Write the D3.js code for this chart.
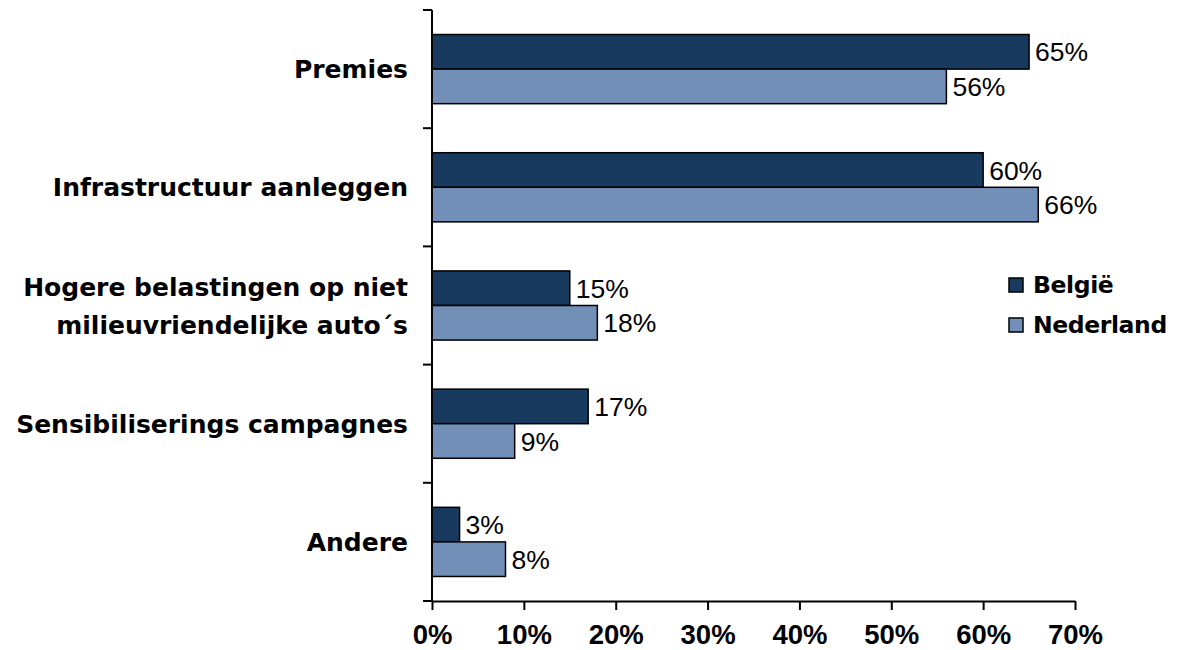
<!DOCTYPE html>
<html><head><meta charset="utf-8">
<script src="https://cdn.jsdelivr.net/npm/d3@7"></script>
<style>body{margin:0;background:#fff;}</style>
</head><body>
<svg id="c" width="1181" height="650"></svg>
<script>
const categories = ["Premies", "Infrastructuur aanleggen", "Hogere belastingen op niet\nmilieuvriendelijke auto´s", "Sensibiliserings campagnes", "Andere"];
const seriesNames = ["België", "Nederland"];
const belgie = [65, 60, 15, 17, 3];
const nederland = [56, 66, 18, 9, 8];
const xTicks = [0, 10, 20, 30, 40, 50, 60, 70];
const colors = ["#173A5E", "#7290B7"];

(function () {
const svg = d3.select("#c");
const mLeft = 432, mRight = 1075, mTop = 10, mBottom = 601;
const x = d3.scaleLinear().domain([0, 70]).range([mLeft, mRight]);
const y = d3.scaleBand().domain(categories).range([mTop, mBottom]).paddingInner(0.415).paddingOuter(0.2075);
const inner = d3.scaleBand().domain(seriesNames).range([0, y.bandwidth()]);
const data = [belgie, nederland];

// bars
seriesNames.forEach((s, si) => {
  const g = svg.append("g");
  categories.forEach((c, ci) => {
    const v = data[si][ci];
    g.append("rect")
      .attr("x", x(0)).attr("y", y(c) + inner(s))
      .attr("width", x(v) - x(0)).attr("height", inner.bandwidth())
      .attr("fill", colors[si]).attr("stroke", "#000").attr("stroke-width", 1.5);
    g.append("text")
      .attr("x", x(v) + 6).attr("y", y(c) + inner(s) + inner.bandwidth() / 2)
      .attr("dy", "0.36em")
      .attr("font-family", "Liberation Sans, Arial, sans-serif")
      .attr("font-size", 26.5).attr("fill", "#000")
      .text(v + "%");
  });
});

// y axis (ticks between categories)
const yb = d3.scaleLinear().domain([0, categories.length]).range([mTop, mBottom]);
svg.append("line").attr("x1", mLeft).attr("x2", mLeft).attr("y1", mTop).attr("y2", mBottom).attr("stroke", "#000").attr("stroke-width", 2);
d3.range(categories.length + 1).forEach(i => {
  svg.append("line").attr("x1", mLeft - 9).attr("x2", mLeft).attr("y1", yb(i)).attr("y2", yb(i)).attr("stroke", "#000").attr("stroke-width", 2);
});

// x axis
const xAxis = d3.axisBottom(x).tickValues(xTicks).tickFormat(d => d + "%").tickSize(9).tickSizeOuter(0);
const gx = svg.append("g").attr("transform", `translate(0,${mBottom})`).call(xAxis);
gx.select(".domain").attr("stroke", "#000").attr("stroke-width", 2);
gx.selectAll(".tick line").attr("stroke", "#000").attr("stroke-width", 2);
gx.selectAll(".tick text").attr("font-family", "Liberation Sans, Arial, sans-serif").attr("font-weight", "bold")
  .attr("font-size", 27.5).attr("fill", "#000").attr("y", 43).attr("dy", "0");

// category labels
categories.forEach(c => {
  const lines = c.split("\n");
  const cy = y(c) + y.bandwidth() / 2;
  const t = svg.append("text").attr("text-anchor", "end")
    .attr("font-family", "DejaVu Sans, sans-serif").attr("font-weight", "bold")
    .attr("font-size", 25).attr("fill", "#000");
  lines.forEach((l, i) => {
    t.append("tspan").attr("x", 408).attr("y", cy + (i - (lines.length - 1) / 2) * 38).attr("dy", "0.36em").text(l);
  });
});

// legend
seriesNames.forEach((s, i) => {
  const ly = 285 + i * 40;
  svg.append("rect").attr("x", 1009).attr("y", ly - 7).attr("width", 14).attr("height", 14)
    .attr("fill", colors[i]).attr("stroke", "#000").attr("stroke-width", 1.5);
  svg.append("text").attr("x", 1033).attr("y", ly).attr("dy", "0.36em")
    .attr("font-family", "DejaVu Sans, sans-serif").attr("font-weight", "bold")
    .attr("font-size", 23.5).attr("letter-spacing", -0.4).attr("fill", "#000").text(s);
});
})();
</script>
</body></html>
